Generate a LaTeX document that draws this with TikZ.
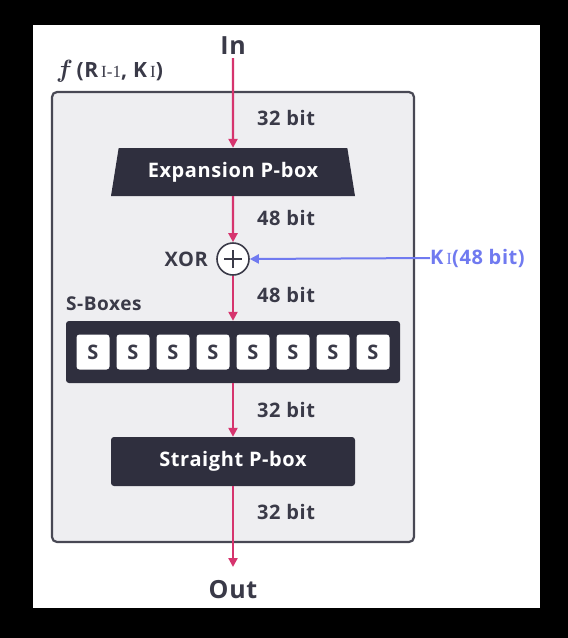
\documentclass[tikz,border=0pt]{standalone}
\usepackage{fontspec}
\setmainfont{Open Sans}[LetterSpace=3]
\newfontfamily\seriff{Liberation Serif}
\usetikzlibrary{arrows.meta,shapes.geometric}
\definecolor{pinkc}{RGB}{214,52,110}
\definecolor{bluec}{RGB}{112,122,240}
\definecolor{darkbox}{RGB}{47,47,62}
\definecolor{txt}{RGB}{58,58,72}
\definecolor{panel}{RGB}{238,238,241}
\definecolor{panelborder}{RGB}{72,72,84}
\newcommand{\subI}[1]{\kern3pt{\seriff\mdseries\fontsize{17}{17}\selectfont #1}}
\tikzset{
  parrow/.style={draw=pinkc, line width=2.2pt, -{Triangle[length=9pt,width=9pt]}},
  barrow/.style={draw=bluec, line width=2pt, -{Triangle[length=9pt,width=9pt]}},
  lbl/.style={text=txt, font=\fontsize{20}{24}\selectfont\bfseries, inner sep=0pt},
  bitlbl/.style={lbl, anchor=west},
  darkrect/.style={fill=darkbox, draw=none, rounded corners=3pt, text=white, font=\fontsize{20}{24}\selectfont\bfseries},
  sbox/.style={fill=white, draw=none, rounded corners=3pt, minimum width=33pt, minimum height=35pt, inner sep=0pt, text=txt, font=\fontsize{20}{24}\selectfont\bfseries},
}
\begin{document}
\begin{tikzpicture}[x=1pt,y=-1pt]
\useasboundingbox (0,0) rectangle (568,638);
\fill[black] (0,0) rectangle (568,638);
\fill[white] (33,25) rectangle (540,608);
\draw[fill=panel, draw=panelborder, line width=2.2pt, rounded corners=5pt] (52,92) rectangle (414,542);

\node[lbl, font=\fontsize{25}{30}\selectfont\bfseries] (in) at (233,46) {In};
\node[lbl, anchor=base west, font=\fontsize{21}{26}\selectfont\bfseries] (flabel) at (56,77)
  {{\fontsize{27}{27}\selectfont\boldmath$f$}\,(R\subI{I-1}, K\subI{I})};

\node[trapezium, trapezium stretches body, trapezium angle=69, minimum width=244pt, minimum height=48pt,
  fill=darkbox, text=white, font=\fontsize{20}{24}\selectfont\bfseries, inner sep=0pt] (exp) at (233,172) {Expansion P-box};

\node[circle, draw=txt, line width=1.6pt, fill=white, minimum size=32pt, inner sep=0pt] (xor) at (233,259) {};
\draw[txt, line width=1.4pt] ([xshift=-9pt]xor.center) -- ([xshift=9pt]xor.center)
  ([yshift=-9pt]xor.center) -- ([yshift=9pt]xor.center);
\node[lbl, anchor=east] (xorlbl) at (208,259) {XOR};

\node[anchor=west, inner sep=0pt, text=bluec, font=\fontsize{20}{24}\selectfont\bfseries] (k) at (430,258)
  {K\subI{I}(48 bit)};

\node[lbl, anchor=west, font=\fontsize{19}{24}\selectfont\bfseries] (sblbl) at (66,304) {S-Boxes};
\node[darkrect, minimum width=334pt, minimum height=62pt, inner sep=0pt] (sc) at (233,352) {};
\foreach \i in {1,...,8} {
  \node[sbox] (s\i) at ({53+40*\i},352) {S};
}

\node[darkrect, minimum width=244pt, minimum height=49pt, inner sep=0pt] (spb) at (233,461.5) {Straight P-box};
\node[lbl, font=\fontsize{25}{30}\selectfont\bfseries] (out) at (233,590) {Out};
\coordinate (outtip) at (233,567);

\node[bitlbl] (b1) at (257,118) {32 bit};
\node[bitlbl] (b2) at (257,218) {48 bit};
\node[bitlbl] (b3) at (257,295) {48 bit};
\node[bitlbl] (b4) at (257,410) {32 bit};
\node[bitlbl] (b5) at (257,512) {32 bit};

\draw[parrow] ([yshift=-3pt]in.south) -- (exp.north);
\draw[parrow] (exp.south) -- (xor.north);
\draw[parrow] (xor.south) -- (sc.north);
\draw[parrow] (sc.south) -- (spb.north);
\draw[parrow] (spb.south) -- (outtip);
\draw[barrow] (k.west) -- (xor.east);
\end{tikzpicture}
\end{document}
